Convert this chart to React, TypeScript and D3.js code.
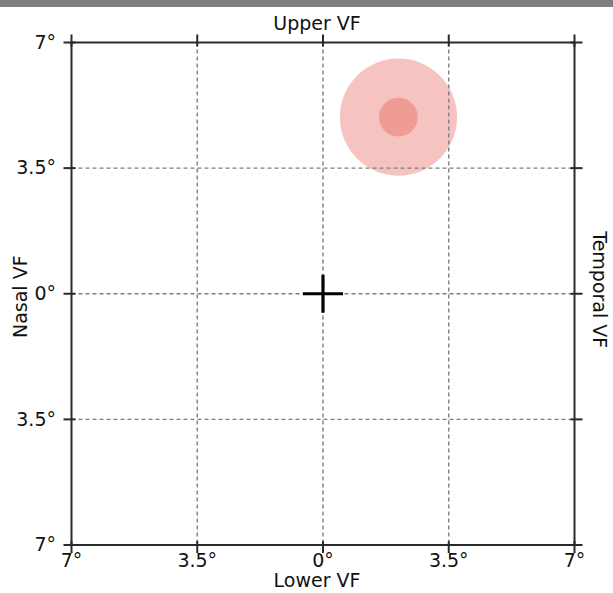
import React from "react";
import * as d3 from "d3";

const tickValues = [-7, -3.5, 0, 3.5, 7];
const tickLabels = ["7°", "3.5°", "0°", "3.5°", "7°"];
const gridValues = [-3.5, 0, 3.5];
const stimulusX = [2.1];
const stimulusY = [4.92];
const outerRadiusDeg = [1.63];
const innerRadiusDeg = [0.54];
const axisTitles = { top: "Upper VF", bottom: "Lower VF", left: "Nasal VF", right: "Temporal VF" };

const W = 613, H = 593;
const FONT = "DejaVu Sans, Verdana, sans-serif";
const FS = 19;

export default function App() {
  const x = d3.scaleLinear().domain([-7, 7]).range([71.5, 574.5]);
  const y = d3.scaleLinear().domain([-7, 7]).range([545, 42.5]);
  const pxPerDeg = x(1) - x(0);
  const x0 = x(-7), x1 = x(7), y0 = y(7), y1 = y(-7);
  const axisColor = "#2a2a2a";
  const gridColor = "#7f7f7f";
  const tOut = 8, tIn = 4;

  return (
    <svg width={W} height={H} style={{ position: "absolute", left: 0, top: 0, background: "#fff" }}>
      <rect x={0} y={0} width={W} height={7} fill="#807f80" />
      {/* stimulus */}
      {stimulusX.map((sx, i) => (
        <g key={"s" + i}>
          <circle cx={x(sx)} cy={y(stimulusY[i])} r={outerRadiusDeg[i] * pxPerDeg} fill="#f6c4c0" />
          <circle cx={x(sx)} cy={y(stimulusY[i])} r={innerRadiusDeg[i] * pxPerDeg} fill="#ee9c94" />
        </g>
      ))}
      {/* grid */}
      {gridValues.map((g) => (
        <g key={"g" + g}>
          <line x1={x(g)} x2={x(g)} y1={y0} y2={y1} stroke={gridColor} strokeWidth={1.4} strokeDasharray="4,3" />
          <line x1={x0} x2={x1} y1={y(g)} y2={y(g)} stroke={gridColor} strokeWidth={1.4} strokeDasharray="4,3" />
        </g>
      ))}
      {/* frame */}
      <rect x={x0} y={y0} width={x1 - x0} height={y1 - y0} fill="none" stroke={axisColor} strokeWidth={2} />
      {/* ticks */}
      {tickValues.map((t) => (
        <g key={"t" + t} stroke={axisColor} strokeWidth={2}>
          <line x1={x(t)} x2={x(t)} y1={y0 - tOut} y2={y0 + tIn} />
          <line x1={x(t)} x2={x(t)} y1={y1 - tIn} y2={y1 + tOut} />
          <line x1={x0 - tOut} x2={x0 + tIn} y1={y(t)} y2={y(t)} />
          <line x1={x1 - tIn} x2={x1 + tOut} y1={y(t)} y2={y(t)} />
        </g>
      ))}
      {/* tick labels */}
      {tickValues.map((t, i) => (
        <text key={"lx" + t} x={x(t)} y={567} textAnchor="middle" fontFamily={FONT} fontSize={FS} fill="#111">
          {tickLabels[i]}
        </text>
      ))}
      {tickValues.map((t, i) => (
        <text key={"ly" + t} x={56} y={y(-t)} dy="0.33em" textAnchor="end" fontFamily={FONT} fontSize={FS} fill="#111">
          {tickLabels[i]}
        </text>
      ))}
      {/* titles */}
      <text x={x(0) - 6} y={30} textAnchor="middle" fontFamily={FONT} fontSize={FS} fill="#111">{axisTitles.top}</text>
      <text x={x(0) - 6} y={587} textAnchor="middle" fontFamily={FONT} fontSize={FS} fill="#111">{axisTitles.bottom}</text>
      <text transform={`translate(27,${y(0) + 3}) rotate(-90)`} textAnchor="middle" fontFamily={FONT} fontSize={FS} fill="#111">{axisTitles.left}</text>
      <text transform={`translate(593,${y(0) - 4}) rotate(90)`} textAnchor="middle" fontFamily={FONT} fontSize={FS} fill="#111">{axisTitles.right}</text>
      {/* fixation cross */}
      <g stroke="#000" strokeWidth={3.2}>
        <line x1={x(0) - 20} x2={x(0) + 20} y1={y(0)} y2={y(0)} />
        <line x1={x(0)} x2={x(0)} y1={y(0) - 19} y2={y(0) + 19} />
      </g>
    </svg>
  );
}
